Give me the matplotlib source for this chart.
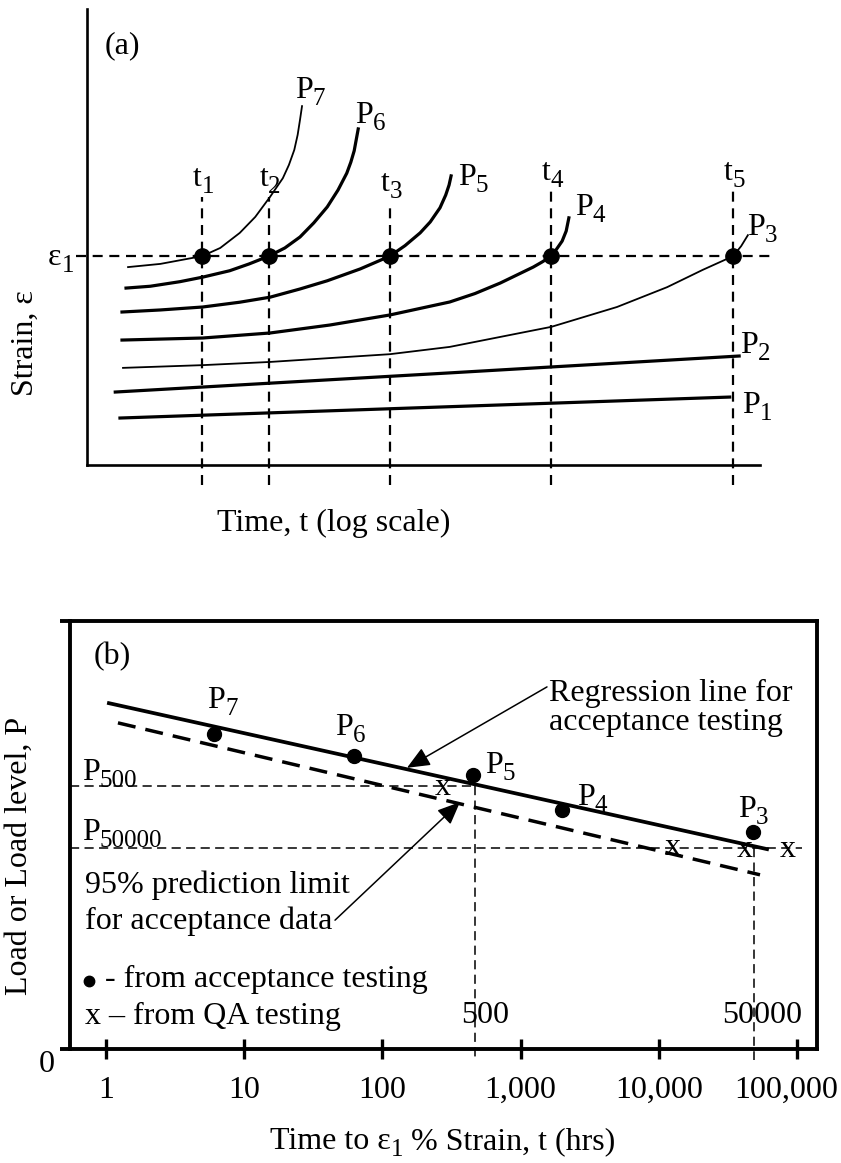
import matplotlib
matplotlib.use("Agg")
import matplotlib.pyplot as plt
import matplotlib.transforms as mtrans
from matplotlib.ticker import NullLocator

plt.rcParams.update({
    "font.family": ["Liberation Serif", "DejaVu Serif"],
    "mathtext.fontset": "custom",
    "mathtext.rm": "Liberation Serif",
    "mathtext.default": "regular",
})

FS = 23      # main text size
SFS = 18     # subscript size

# ---------------- Panel (a) data: log-time (0-100) vs strain (0-100), schematic ----------------
p7_t = [6.1, 10.9, 14.9, 17.1, 19.8, 22.7, 25.0, 27.2, 29.1, 30.0, 30.8, 31.3, 31.65, 31.95]
p7_e = [43.4, 44.1, 45.2, 45.8, 47.6, 50.9, 54.4, 58.8, 62.9, 65.8, 69.1, 72.4, 75.7, 78.7]
p6_t = [5.8, 9.4, 13.8, 17.2, 21.2, 24.1, 27.0, 29.4, 31.65, 33.7, 35.7, 37.3, 38.6, 39.2, 39.7, 40.0, 40.3]
p6_e = [38.8, 39.2, 40.2, 41.2, 42.6, 44.1, 45.8, 47.6, 50.0, 53.1, 56.6, 60.3, 64.0, 66.4, 68.9, 71.3, 73.7]
p5_t = [5.2, 10.9, 17.2, 22.7, 27.2, 31.65, 35.7, 40.6, 45.0, 47.25, 49.5, 51.0, 52.45, 53.3, 53.8, 54.1]
p5_e = [33.55, 34.0, 34.65, 35.7, 36.8, 38.6, 40.4, 43.0, 45.8, 48.1, 50.9, 53.3, 56.4, 59.2, 61.4, 63.4]
p4_t = [5.2, 17.2, 27.2, 36.1, 45.0, 53.9, 57.65, 61.4, 66.3, 67.6, 69.0, 69.8, 70.6, 71.2, 71.6]
p4_e = [27.4, 27.85, 28.95, 30.7, 32.9, 35.75, 37.6, 39.9, 43.4, 44.5, 45.8, 47.4, 49.1, 51.3, 54.2]
p3_t = [5.35, 17.2, 27.2, 45.0, 53.9, 69.0, 78.75, 86.2, 91.5, 96.0, 97.2, 98.2]
p3_e = [21.3, 21.9, 22.6, 24.3, 25.9, 30.3, 34.65, 39.0, 42.8, 45.8, 48.0, 50.4]
p2_t = [4.2, 53.9, 96.9]
p2_e = [16.0, 20.2, 23.9]
p1_t = [4.9, 95.5]
p1_e = [10.3, 14.9]

eps1 = 45.8
t_marks = [17.1, 27.0, 45.0, 69.0, 96.0]          # t1..t5
t_subs = ["1", "2", "3", "4", "5"]
t_tops = [58.8, 58.8, 57.7, 60.3, 60.3]
t_bottom = -4.4

curve_subs = ["7", "6", "5", "4", "3", "2", "1"]
curve_lab_t = [30.9, 39.8, 55.1, 72.5, 98.1, 97.0, 97.3]
curve_lab_e = [80.5, 75.0, 61.4, 54.8, 50.4, 24.6, 11.4]

# ---------------- Panel (b) data ----------------
acc_t = [6.0, 62, 450, 2000, 48000]
acc_P = [73.6, 68.5, 64.0, 55.8, 50.7]
acc_subs = ["7", "6", "5", "4", "3"]
acc_lab_t = [5.4, 45.4, 553, 2560, 37400]
acc_lab_P = [79.7, 73.4, 64.5, 57.0, 54.2]
qa_t = [274, 12700, 42000, 85000]
qa_P = [61.0, 47.0, 46.5, 46.5]
reg_t = [1.05, 60700]
reg_P = [80.8, 46.7]
pl_t = [1.22, 54000]
pl_P = [76.2, 40.7]
P500 = 61.4
P50000 = 47.0
t500_line = 470
t50000_line = 49000
xticks_b = [1, 10, 100, 1000, 10000, 100000]
xticklabels_b = ["1", "10", "100", "1,000", "10,000", "100,000"]

W, H = 841, 1163
fig = plt.figure(figsize=(W / 100, H / 100), dpi=100)


def fx(px):
    return px / W


def fy(py):
    return 1 - py / H


def sub_label(ax, x, y, main, sub, coords="data"):
    t = ax.annotate(main, xy=(x, y), xycoords=coords, fontsize=FS, ha="left",
                    va="baseline", annotation_clip=False)
    s = ax.annotate(sub, xy=(1, 0), xycoords=t, fontsize=SFS, ha="left",
                    va="baseline", annotation_clip=False)
    return t, s


# ================= Panel (a) =================
ax_a = fig.add_axes([fx(87), fy(465), fx(760) - fx(87), fy(9) - fy(465)])
ax_a.set_xlim(0, 100)
ax_a.set_ylim(0, 100)
for s in ["top", "right"]:
    ax_a.spines[s].set_visible(False)
for s in ["left", "bottom"]:
    ax_a.spines[s].set_linewidth(1.9)
ax_a.set_xticks([])
ax_a.set_yticks([])

dash_a = (0, (4.5, 3.0))
ax_a.plot([-1.6, 101.9], [eps1, eps1], color="k", lw=1.6, ls=dash_a, clip_on=False, zorder=2)
for tx, top, sb in zip(t_marks, t_tops, t_subs):
    ax_a.plot([tx, tx], [t_bottom, top], color="k", lw=1.6, ls=dash_a, clip_on=False, zorder=2)
    sub_label(ax_a, tx - 1.4, top + 2.3, "t", sb)

thick, thin = 2.3, 1.3
ax_a.plot(p7_t, p7_e, color="k", lw=thin, zorder=3)
ax_a.plot(p6_t, p6_e, color="k", lw=thick, zorder=3)
ax_a.plot(p5_t, p5_e, color="k", lw=thick, zorder=3)
ax_a.plot(p4_t, p4_e, color="k", lw=thick, zorder=3)
ax_a.plot(p3_t, p3_e, color="k", lw=thin, zorder=3)
ax_a.plot(p2_t, p2_e, color="k", lw=thick, zorder=3)
ax_a.plot(p1_t, p1_e, color="k", lw=thick, zorder=3)
ax_a.plot(t_marks, [eps1] * len(t_marks), "o", color="k", ms=11, zorder=4, clip_on=False)

for sb, lx, ly in zip(curve_subs, curve_lab_t, curve_lab_e):
    sub_label(ax_a, lx, ly, "P", sb)

sub_label(ax_a, -5.8, 43.9, "ε", "1")
ax_a.text(0.052, 0.919, "(a)", transform=ax_a.transAxes, fontsize=FS, ha="center", va="center")
fig.text(fx(25), fy(343), "Strain, ε", rotation=90, fontsize=FS, ha="center", va="center")
fig.text(fx(217), fy(523), "Time, t (log scale)", fontsize=FS, ha="left", va="center")

# ================= Panel (b) =================
ax_b = fig.add_axes([fx(70), fy(1049), fx(817) - fx(70), fy(621) - fy(1049)])
ax_b.set_xscale("log")
x0, x1 = 0.5488, 139560
ax_b.set_xlim(x0, x1)
ax_b.set_ylim(0, 100)
for s in ax_b.spines.values():
    s.set_linewidth(2.8)
ax_b.set_xticks(xticks_b)
ax_b.set_xticklabels(xticklabels_b)
ax_b.xaxis.set_minor_locator(NullLocator())
ax_b.set_yticks([])
ax_b.tick_params(axis="x", direction="inout", length=14.4, width=2.4, labelsize=FS, pad=12)
lbls = ax_b.get_xticklabels()
lbls[-1].set_transform(lbls[-1].get_transform() + mtrans.ScaledTranslation(-11 / 100, 0, fig.dpi_scale_trans))

# extensions of top/bottom frame lines to the left
for yy in (0, 1):
    ax_b.plot([-10 / 747, 0], [yy, yy], transform=ax_b.transAxes, color="k", lw=2.8,
              clip_on=False, solid_capstyle="butt")

thin_dash = (0, (6.0, 3.5))
ax_b.plot([x0, t500_line], [P500, P500], color="k", lw=1.1, ls=thin_dash, zorder=1)
ax_b.plot([x0, 108700], [P50000, P50000], color="k", lw=1.1, ls=thin_dash, zorder=1)
ax_b.plot([t500_line, t500_line], [P500, -2.6], color="k", lw=1.1, ls=thin_dash, clip_on=False, zorder=1)
ax_b.plot([t50000_line, t50000_line], [P50000, -2.6], color="k", lw=1.1, ls=thin_dash, clip_on=False, zorder=1)

ax_b.plot(reg_t, reg_P, color="k", lw=2.7, zorder=3)
ax_b.plot(pl_t, pl_P, color="k", lw=2.5, ls=(0, (5.2, 2.9)), zorder=3)
ax_b.plot(acc_t, acc_P, "o", color="k", ms=10, zorder=4)
for t, p in zip(qa_t, qa_P):
    ax_b.text(t, p, "x", fontsize=FS, ha="center", va="center", zorder=5)
for sb, lt, lp in zip(acc_subs, acc_lab_t, acc_lab_P):
    sub_label(ax_b, lt, lp, "P", sb)

sub_label(ax_b, 0.67, 62.9, "P", "500")
sub_label(ax_b, 0.67, 48.8, "P", "50000")
ax_b.text(553, 6.1, "500", fontsize=FS, ha="center", va="baseline")
ax_b.text(55800, 6.1, "50000", fontsize=FS, ha="center", va="baseline")

arrow_style = "-|>,head_length=0.7,head_width=0.3"
ax_b.annotate("", xy=(150.6, 65.7), xytext=(1552, 84.6),
              arrowprops=dict(arrowstyle=arrow_style, color="k", lw=1.1,
                              shrinkA=0, shrinkB=0, mutation_scale=20))
ax_b.annotate("", xy=(364.5, 57.7), xytext=(45.4, 30.1),
              arrowprops=dict(arrowstyle=arrow_style, color="k", lw=1.1,
                              shrinkA=0, shrinkB=0, mutation_scale=20))
ax_b.text(1605, 81.3, "Regression line for", fontsize=FS, ha="left", va="baseline")
ax_b.text(1605, 74.5, "acceptance testing", fontsize=FS, ha="left", va="baseline")
ax_b.text(0.705, 36.4, "95% prediction limit", fontsize=FS, ha="left", va="baseline")
ax_b.text(0.705, 28.0, "for acceptance data", fontsize=FS, ha="left", va="baseline")
ax_b.plot([0.753], [15.9], "o", color="k", ms=7.5, clip_on=False)
ax_b.text(0.985, 14.5, "- from acceptance testing", fontsize=FS, ha="left", va="baseline")
ax_b.text(0.705, 5.8, "x – from QA testing", fontsize=FS, ha="left", va="baseline")
ax_b.text(0.056, 0.916, "(b)", transform=ax_b.transAxes, fontsize=FS, ha="center", va="center")

fig.text(fx(47), fy(1064), "0", fontsize=FS, ha="center", va="center")
fig.text(fx(19), fy(856), "Load or Load level, P", rotation=90, fontsize=FS, ha="center", va="center")

xl_base = 1149
xl_main = fig.text(fx(270), fy(xl_base), "Time to ε", fontsize=FS, ha="left", va="baseline")
xl_sub = ax_b.annotate("1", xy=(1, 0), xycoords=xl_main, fontsize=SFS, ha="left",
                       va="baseline", annotation_clip=False)
ax_b.annotate(" % Strain, t (hrs)", xy=(1, fy(xl_base)), xycoords=(xl_sub, "figure fraction"),
              fontsize=FS, ha="left", va="baseline", annotation_clip=False)

fig.savefig("out.png", dpi=100)
